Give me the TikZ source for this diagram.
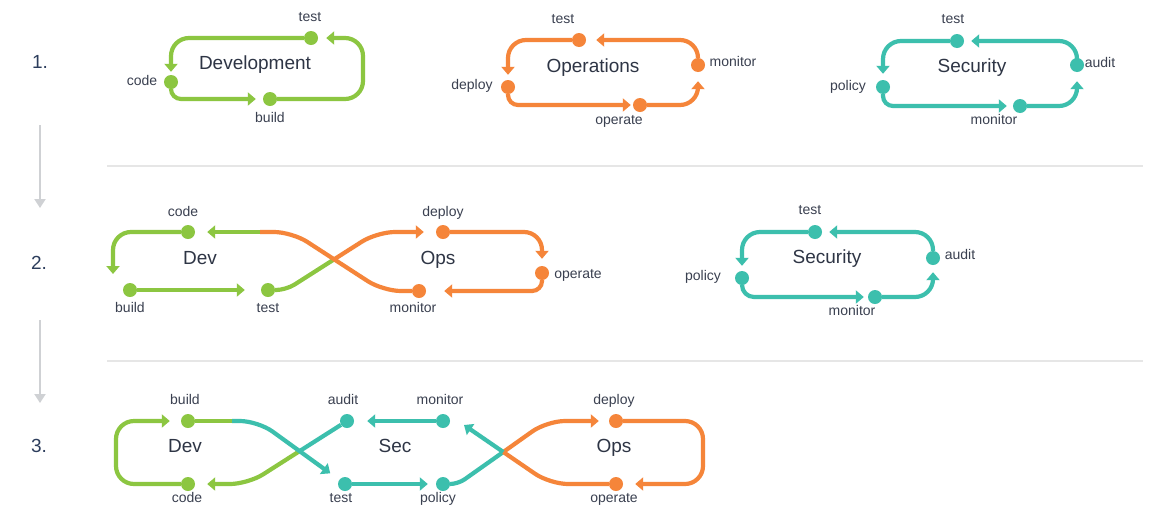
\documentclass[tikz,border=0pt]{standalone}
\usepackage{fontspec}
\setmainfont{Liberation Sans}
\usetikzlibrary{arrows.meta}
\definecolor{cg}{HTML}{8CC641}
\definecolor{co}{HTML}{F5853A}
\definecolor{ct}{HTML}{3CBFAD}
\definecolor{txt}{HTML}{3A4050}
\definecolor{ttl}{HTML}{2E3545}
\definecolor{num}{HTML}{2C3D5C}
\definecolor{gry}{HTML}{CFD1D4}
\definecolor{sepc}{HTML}{E6E6E6}
\begin{document}
\begin{tikzpicture}[x=1pt,y=-1pt,
 dot/.style={circle,fill=#1,inner sep=0pt,minimum size=14pt},
 ln/.style={draw=#1,line width=4.2pt,rounded corners=18pt},
 ar/.style={-{Triangle[length=8pt,width=13pt]},shorten >=#1},
 lbl/.style={text=txt,font=\fontsize{14}{16}\selectfont,inner sep=0pt,text height=9.8pt,text depth=2.9pt},
 ttlf/.style={text=ttl,font=\fontsize{19}{22}\selectfont,inner sep=0pt,text height=13.5pt,text depth=4pt},
 numf/.style={text=num,font=\fontsize{19}{22}\selectfont,inner sep=0pt},
 garr/.style={draw=gry,line width=2pt,-{Triangle[length=9pt,width=11pt]}},
 sepl/.style={draw=sepc,line width=1.5pt},
]
\fill[white] (0,0) rectangle (1166,528);
\useasboundingbox (0,0) rectangle (1166,528);

% step numbers and arrows
\node[numf] (n1) at (40,62) {1.};
\node[numf] (n2) at (39,263) {2.};
\node[numf] (n3) at (39,446) {3.};
\coordinate (g1a) at (40,125); \coordinate (g1b) at (40,208);
\coordinate (g2a) at (40,320); \coordinate (g2b) at (40,403);
\draw[garr] (g1a) -- (g1b);
\draw[garr] (g2a) -- (g2b);
\coordinate (s1a) at (107,166); \coordinate (s1b) at (1143,166);
\coordinate (s2a) at (107,361); \coordinate (s2b) at (1143,361);
\draw[sepl] (s1a) -- (s1b);
\draw[sepl] (s2a) -- (s2b);

% ===== Row 1: Development
\node[dot=cg] (dT1) at (311,38) {};
\node[dot=cg] (dC1) at (171,82) {};
\node[dot=cg] (dB1) at (270,99) {};
\draw[ln=cg,ar=3pt] (dT1) -| (dC1);
\draw[ln=cg,ar=7pt,rounded corners=10pt] (dC1) |- (dB1);
\draw[ln=cg,ar=8pt] (dB1) -- (363,99) -- (363,38) -- (dT1);
\node[lbl] (ldT1) at (310,18) {test};
\node[lbl] (ldC1) at (142,82) {code};
\node[lbl] (ldB1) at (270,119) {build};
\node[ttlf] (tDev1) at (255,65) {Development};

% ===== Row 1: Operations
\node[dot=co] (oT1) at (579,40) {};
\node[dot=co] (oD1) at (508,87) {};
\node[dot=co] (oO1) at (640,105) {};
\node[dot=co] (oM1) at (698,65) {};
\draw[ln=co,ar=5pt] (oT1) -| (oD1);
\draw[ln=co,ar=2pt,rounded corners=10pt] (oD1) |- (oO1);
\draw[ln=co,ar=9pt] (oO1) -| (oM1);
\draw[ln=co,ar=10pt] (oM1) |- (oT1);
\node[lbl] (loT1) at (563,20) {test};
\node[lbl] (loD1) at (472,86) {deploy};
\node[lbl] (loO1) at (619,121) {operate};
\node[lbl] (loM1) at (733,63) {monitor};
\node[ttlf] (tOps1) at (593,68) {Operations};

% ===== Row 1: Security
\node[dot=ct] (sT1) at (957,41) {};
\node[dot=ct] (sP1) at (883,87) {};
\node[dot=ct] (sM1) at (1020,106) {};
\node[dot=ct] (sA1) at (1077,65) {};
\draw[ln=ct,ar=6pt] (sT1) -| (sP1);
\draw[ln=ct,ar=6pt,rounded corners=10pt] (sP1) |- (sM1);
\draw[ln=ct,ar=9pt] (sM1) -| (sA1);
\draw[ln=ct,ar=7pt] (sA1) |- (sT1);
\node[lbl] (lsT1) at (953,20) {test};
\node[lbl] (lsA1) at (1100,64) {audit};
\node[lbl] (lsP1) at (848,87) {policy};
\node[lbl] (lsM1) at (994,121) {monitor};
\node[ttlf] (tSec1) at (972,68) {Security};

% ===== Row 2: Dev + Ops
\node[dot=cg] (dC2) at (188,232) {};
\node[dot=cg] (dB2) at (130,290) {};
\node[dot=cg] (dT2) at (268,290) {};
\node[dot=co] (oD2) at (443,232) {};
\node[dot=co] (oO2) at (542,273) {};
\node[dot=co] (oM2) at (419,291) {};
\coordinate (c2e) at (113,274);
\coordinate (x2) at (334.5,259.1);
\coordinate (g2) at (260,232);
\draw[ln=cg,ar=0pt] (dC2) -| (c2e);
\draw[ln=cg,ar=16pt] (dB2) -- (dT2);
\draw[ln=cg,rounded corners=10pt] (dT2) -- (286,290) -- (x2);
\draw[ln=co,ar=12pt] (x2) -- (377,232) -- (oD2);
\draw[ln=co] (oM2) -- (383,291) -- (292,232) -- (g2);
\draw[ln=cg,ar=12pt] (g2) -- (dC2);
\draw[ln=co,ar=7pt] (oD2) -| (oO2);
\draw[ln=co,ar=18pt,rounded corners=10pt] (oO2) |- (oM2);
\node[lbl] (ldC2) at (183,213) {code};
\node[lbl] (ldB2) at (130,309) {build};
\node[lbl] (ldT2) at (268,309) {test};
\node[lbl] (loD2) at (443,213) {deploy};
\node[lbl] (loM2) at (413,309) {monitor};
\node[lbl] (loO2) at (578,275) {operate};
\node[ttlf] (tDev2) at (200,260) {Dev};
\node[ttlf] (tOps2) at (438,260) {Ops};

% ===== Row 2: Security
\node[dot=ct] (sT2) at (815,232) {};
\node[dot=ct] (sA2) at (933,258) {};
\node[dot=ct] (sP2) at (742,278) {};
\node[dot=ct] (sM2) at (875,297) {};
\draw[ln=ct,ar=5pt] (sT2) -| (sP2);
\draw[ln=ct,ar=4pt,rounded corners=12pt] (sP2) |- (sM2);
\draw[ln=ct,ar=7pt] (sM2) -| (sA2);
\draw[ln=ct,ar=7pt] (sA2) |- (sT2);
\node[lbl] (lsT2) at (810,211) {test};
\node[lbl] (lsA2) at (960,256) {audit};
\node[lbl] (lsP2) at (703,277) {policy};
\node[lbl] (lsM2) at (852,312) {monitor};
\node[ttlf] (tSec2) at (827,259) {Security};

% ===== Row 3: Dev + Sec + Ops
\node[dot=cg] (dB3) at (188,421) {};
\node[dot=cg] (dC3) at (188,484) {};
\node[dot=ct] (sA3) at (347,421) {};
\node[dot=ct] (sM3) at (443,421) {};
\node[dot=ct] (sT3) at (345,484) {};
\node[dot=ct] (sP3) at (443,484) {};
\node[dot=co] (oD3) at (616,421) {};
\node[dot=co] (oO3) at (616,484) {};
\coordinate (x3a) at (299.6,451.1);
\coordinate (x3b) at (503.3,452);
\coordinate (g3) at (232,421);
\coordinate (m3e) at (464,425);
\draw[ln=cg,ar=11pt] (dC3) -- (116,484) -- (116,421) -- (dB3);
\draw[ln=cg] (dB3) -- (g3);
\draw[ln=ct] (sA3) -- (x3a);
\draw[ln=cg,ar=12pt] (x3a) -- (248,484) -- (dC3);
\draw[ln=ct,ar=11pt] (g3) -- (258,421) -- (sT3);
\draw[ln=ct,ar=13pt] (sM3) -- (sA3);
\draw[ln=ct,ar=8pt] (sT3) -- (sP3);
\draw[ln=ct,rounded corners=8pt] (sP3) -- (458,484) -- (x3b);
\draw[ln=co,ar=10pt] (x3b) -- (547,421) -- (oD3);
\draw[ln=co,ar=12pt] (oD3) -- (703,421) -- (703,484) -- (oO3);
\draw[ln=co] (oO3) -- (550,484) -- (x3b);
\draw[ln=ct,ar=0pt] (x3b) -- (m3e);
\node[lbl] (ldB3) at (185,401) {build};
\node[lbl] (lsA3) at (343,401) {audit};
\node[lbl] (lsM3) at (440,401) {monitor};
\node[lbl] (loD3) at (614,401) {deploy};
\node[lbl] (ldC3) at (187,499) {code};
\node[lbl] (lsT3) at (341,499) {test};
\node[lbl] (lsP3) at (438,499) {policy};
\node[lbl] (loO3) at (614,499) {operate};
\node[ttlf] (tDev3) at (185,448) {Dev};
\node[ttlf] (tSec3) at (395,448) {Sec};
\node[ttlf] (tOps3) at (614,448) {Ops};
\end{tikzpicture}
\end{document}
